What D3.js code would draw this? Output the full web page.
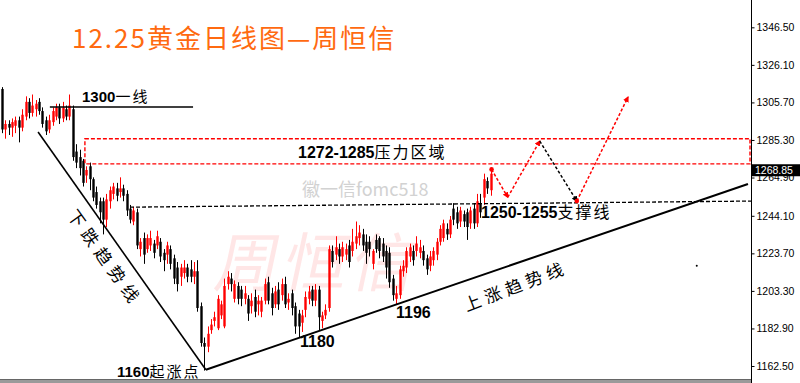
<!DOCTYPE html>
<html>
<head>
<meta charset="utf-8">
<script src="https://cdn.jsdelivr.net/npm/d3@7"></script>
<style>
  html, body { margin: 0; padding: 0; background: #fff; }
  svg { display: block; }
  .num { font-family: "Liberation Sans", Arial, sans-serif; font-weight: bold; }
  .cjk { font-family: "Noto Sans CJK SC", sans-serif; font-weight: 400; }
</style>
</head>
<body>
<svg id="chart" width="800" height="383"></svg>
<script>
// daily candles (oldest first)
const opens = [
  1313, 1291, 1294, 1292, 1293, 1296, 1292, 1298, 1306, 1300,
  1302, 1306, 1301, 1296, 1291, 1295, 1298, 1303, 1297, 1302,
  1298, 1302, 1279, 1276, 1274, 1266, 1271, 1264, 1257, 1252,
  1252, 1242, 1252, 1256, 1259, 1257, 1259, 1256, 1248, 1241,
  1246, 1226, 1232, 1226, 1228, 1229, 1228, 1230, 1224, 1223,
  1226, 1221, 1216, 1211, 1213, 1216, 1215, 1211, 1214, 1195,
  1175, 1173, 1182, 1187, 1183, 1190, 1184, 1207, 1210, 1199,
  1206, 1204, 1199, 1199, 1195, 1200, 1196, 1192, 1198, 1208,
  1202, 1196, 1204, 1201, 1207, 1197, 1202, 1195, 1191, 1186,
  1193, 1199, 1204, 1198, 1204, 1187, 1190, 1194, 1225, 1223,
  1226, 1222, 1223, 1228, 1225, 1229, 1232, 1234, 1230, 1230,
  1218, 1231, 1232, 1229, 1225, 1224, 1210, 1199, 1201, 1214,
  1216, 1222, 1225, 1225, 1224, 1225, 1221, 1217, 1220, 1223,
  1230, 1232, 1237, 1234, 1248, 1246, 1241, 1245, 1246, 1240,
  1248, 1240, 1251, 1254, 1263, 1258
];
const closes = [
  1291, 1294, 1292, 1295, 1296, 1292, 1299, 1306, 1300, 1304,
  1305, 1301, 1294, 1290, 1296, 1301, 1303, 1297, 1303, 1298,
  1304, 1276, 1273, 1270, 1262, 1269, 1264, 1254, 1250, 1246,
  1242, 1253, 1258, 1260, 1255, 1259, 1255, 1247, 1242, 1247,
  1228, 1230, 1223, 1232, 1232, 1224, 1233, 1222, 1220, 1228,
  1218, 1210, 1207, 1216, 1216, 1211, 1211, 1214, 1194, 1175,
  1173, 1180, 1185, 1189, 1199, 1196, 1206, 1211, 1207, 1207,
  1199, 1199, 1202, 1191, 1198, 1192, 1198, 1198, 1207, 1198,
  1194, 1203, 1196, 1207, 1196, 1199, 1194, 1184, 1184, 1190,
  1200, 1203, 1198, 1204, 1189, 1190, 1193, 1226, 1219, 1227,
  1222, 1227, 1226, 1219, 1230, 1233, 1235, 1228, 1224, 1226,
  1225, 1226, 1225, 1222, 1216, 1208, 1201, 1202, 1215, 1217,
  1225, 1227, 1220, 1229, 1227, 1220, 1215, 1222, 1225, 1230,
  1237, 1240, 1234, 1242, 1242, 1240, 1247, 1241, 1238, 1247,
  1240, 1252, 1246, 1264, 1259, 1267
];
const highs = [
  1314, 1296, 1296, 1297, 1298, 1298, 1302, 1309, 1308, 1310,
  1307, 1308, 1303, 1298, 1299, 1303, 1305, 1305, 1306, 1304,
  1310, 1304, 1283, 1280, 1275, 1271, 1273, 1265, 1260, 1254,
  1254, 1256, 1260, 1262, 1262, 1265, 1261, 1258, 1250, 1249,
  1248, 1232, 1235, 1234, 1236, 1231, 1236, 1232, 1226, 1230,
  1228, 1223, 1219, 1218, 1220, 1218, 1220, 1219, 1220, 1197,
  1178, 1184, 1188, 1192, 1201, 1198, 1210, 1214, 1213, 1209,
  1208, 1206, 1206, 1201, 1202, 1204, 1201, 1200, 1210, 1211,
  1205, 1206, 1208, 1210, 1211, 1202, 1204, 1197, 1193, 1193,
  1203, 1206, 1206, 1207, 1206, 1192, 1196, 1228, 1228, 1233,
  1229, 1230, 1229, 1231, 1237, 1241, 1239, 1237, 1234, 1233,
  1226, 1234, 1233, 1232, 1228, 1227, 1212, 1206, 1217, 1220,
  1227, 1229, 1228, 1233, 1231, 1228, 1223, 1225, 1227, 1232,
  1239, 1242, 1240, 1244, 1251, 1249, 1249, 1247, 1248, 1249,
  1251, 1256, 1256, 1267, 1265, 1269
];
const lows = [
  1289, 1286, 1288, 1287, 1289, 1284, 1290, 1296, 1297, 1298,
  1298, 1299, 1292, 1288, 1289, 1293, 1296, 1294, 1295, 1296,
  1296, 1274, 1270, 1266, 1260, 1262, 1258, 1252, 1248, 1240,
  1234, 1238, 1248, 1253, 1252, 1254, 1252, 1244, 1240, 1239,
  1226, 1222, 1218, 1224, 1225, 1221, 1226, 1219, 1214, 1218,
  1215, 1207, 1203, 1206, 1210, 1208, 1208, 1207, 1192, 1173,
  1160, 1170, 1180, 1184, 1182, 1188, 1183, 1204, 1203, 1197,
  1196, 1195, 1196, 1187, 1191, 1189, 1190, 1189, 1196, 1196,
  1190, 1194, 1193, 1198, 1194, 1193, 1190, 1180, 1178, 1181,
  1189, 1196, 1195, 1195, 1182, 1183, 1188, 1192, 1216, 1220,
  1218, 1219, 1220, 1216, 1222, 1226, 1228, 1225, 1218, 1222,
  1215, 1224, 1221, 1219, 1210, 1205, 1198, 1196, 1199, 1211,
  1213, 1219, 1217, 1222, 1221, 1217, 1212, 1214, 1217, 1220,
  1228, 1230, 1231, 1232, 1239, 1237, 1238, 1238, 1231, 1237,
  1237, 1238, 1243, 1250, 1256, 1255
];

// price axis labels as shown on the right
const tickValues = [1346.5, 1326.1, 1305.7, 1285.3, 1264.9, 1244.1, 1223.7, 1203.3, 1182.9, 1162.5];
const lastPrice = 1268.85;

// drawn lines: [bar index, price]
const downTrend = [[10.7, 1289.6], [60.5, 1160.5]];
const upTrend = [[60.5, 1160.5], [221.4, 1261.4]];
const line1300 = [[14.2, 1303.2], [56.7, 1303.2]];
const supportLine = [[38, 1248.8], [222.3, 1252.1]];
const pressureZone = { from: 24.6, to: 222.3, top: 1286, bottom: 1272.3 };
const forecast = [[145.3, 1269.3], [150.1, 1254.2], [159.6, 1284.7], [170.6, 1252.1], [185.8, 1308.6]];
const forecastColors = ['#ff0000', '#ff0000', '#000000', '#ff0000'];

const W = 800, H = 383, plotRight = 751, plotBottom = 379;
const svg = d3.select('#chart');

const x = d3.scaleLinear().domain([-0.6, 222.3]).range([0, plotRight]);
const y = d3.scaleLinear().domain([1155.44, 1361.34]).range([plotBottom, 0]);

const candles = opens.map((o, i) => ({ i, o, c: closes[i], h: highs[i], l: lows[i] }));

svg.append('defs').html(`
  <clipPath id="plot"><rect x="0" y="0" width="${plotRight}" height="${plotBottom}"></rect></clipPath>
  <marker id="arrRed" viewBox="0 0 10 10" refX="8" refY="5" markerWidth="4" markerHeight="4" orient="auto">
    <path d="M0,0 L10,5 L0,10 z" fill="#ff0000"></path></marker>
  <marker id="arrBlack" viewBox="0 0 10 10" refX="8" refY="5" markerWidth="4" markerHeight="4" orient="auto">
    <path d="M0,0 L10,5 L0,10 z" fill="#000"></path></marker>
`);

// watermark behind everything
svg.append('text')
  .attr('class', 'cjk')
  .attr('x', 218).attr('y', 286)
  .attr('font-size', 64)
  .attr('font-weight', 700)
  .attr('fill', '#ff3030')
  .attr('fill-opacity', 0.12)
  .attr('letter-spacing', 4)
  .attr('transform', 'skewX(-12) translate(55,0)')
  .text('周恒信');

svg.append('text')
  .attr('class', 'cjk')
  .attr('x', 302).attr('y', 196)
  .attr('font-size', 18)
  .attr('fill', '#d2d2d2')
  .text('徽一信fomc518');

const g = svg.append('g').attr('clip-path', 'url(#plot)');

// candles
const bw = 2.4;
g.selectAll('line.wick')
  .data(candles)
  .enter()
  .append('line')
  .attr('class', 'wick')
  .attr('x1', d => Math.round(x(d.i)) + 0.5)
  .attr('x2', d => Math.round(x(d.i)) + 0.5)
  .attr('y1', d => y(d.h))
  .attr('y2', d => y(d.l))
  .attr('stroke', d => (d.c >= d.o ? '#ff0000' : '#000'))
  .attr('stroke-width', 1);

g.selectAll('rect.body')
  .data(candles)
  .enter()
  .append('rect')
  .attr('class', 'body')
  .attr('x', d => Math.round(x(d.i)) + 0.5 - bw / 2)
  .attr('width', bw)
  .attr('y', d => y(Math.max(d.o, d.c)))
  .attr('height', d => Math.max(1, Math.abs(y(d.o) - y(d.c))))
  .attr('fill', d => (d.c >= d.o ? '#ff0000' : '#000'));

const line = d3.line().x(d => x(d[0])).y(d => y(d[1]));

// trend lines
g.append('path').attr('d', line(downTrend)).attr('stroke', '#000').attr('stroke-width', 1.6).attr('fill', 'none');
g.append('path').attr('d', line(upTrend)).attr('stroke', '#000').attr('stroke-width', 2).attr('fill', 'none');
g.append('path').attr('d', line(line1300)).attr('stroke', '#000').attr('stroke-width', 1.6).attr('fill', 'none');
g.append('path').attr('d', line(supportLine)).attr('stroke', '#000').attr('stroke-width', 1.3)
  .attr('stroke-dasharray', '4,2').attr('fill', 'none');

// pressure zone
svg.append('rect')
  .attr('x', x(pressureZone.from))
  .attr('y', y(pressureZone.top))
  .attr('width', plotRight - 1 - x(pressureZone.from))
  .attr('height', y(pressureZone.bottom) - y(pressureZone.top))
  .attr('fill', 'none')
  .attr('stroke', '#ff0000')
  .attr('stroke-width', 1.4)
  .attr('stroke-dasharray', '4,2');

// forecast arrows
forecast.slice(0, -1).forEach((p, k) => {
  const q = forecast[k + 1];
  svg.append('path')
    .attr('d', line([p, q]))
    .attr('stroke', forecastColors[k])
    .attr('stroke-width', 1.5)
    .attr('stroke-dasharray', '3,2')
    .attr('fill', 'none')
    .attr('marker-end', forecastColors[k] === '#000000' ? 'url(#arrBlack)' : 'url(#arrRed)');
});
[forecast[0], forecast[3]].forEach(p => {
  svg.append('circle').attr('cx', x(p[0])).attr('cy', y(p[1])).attr('r', 2.3).attr('fill', '#ff0000');
});
svg.append('circle').attr('cx', x(206.2)).attr('cy', y(1216.9)).attr('r', 1).attr('fill', '#000');

// title
svg.append('text')
  .attr('class', 'cjk')
  .attr('x', 72).attr('y', 48)
  .attr('font-size', 26)
  .attr('font-weight', 500)
  .attr('fill', '#ff6a10')
  .attr('letter-spacing', 2)
  .text('12.25黄金日线图—周恒信');

// labels
function label(xp, yp, num, txt, size) {
  const t = svg.append('text').attr('x', xp).attr('y', yp).attr('font-size', size).attr('fill', '#000');
  t.append('tspan').attr('class', 'num').text(num);
  if (txt) t.append('tspan').attr('class', 'cjk').attr('letter-spacing', 2).text(txt);
}
label(82, 102, '1300', '一线', 15);
label(298, 158, '1272-1285', '压力区域', 16);
label(481, 218, '1250-1255', '支撑线', 16);
label(117, 377, '1160', '起涨点', 15);
label(300, 347, '1180', '', 16);
label(396, 318, '1196', '', 16);

svg.append('text')
  .attr('class', 'cjk')
  .attr('font-size', 17)
  .attr('letter-spacing', 6)
  .attr('text-anchor', 'middle')
  .attr('transform', 'translate(100,262) rotate(54.5)')
  .text('下跌趋势线');

svg.append('text')
  .attr('class', 'cjk')
  .attr('font-size', 17)
  .attr('letter-spacing', 5)
  .attr('text-anchor', 'middle')
  .attr('transform', 'translate(518,292) rotate(-21)')
  .text('上涨趋势线');

// right price axis
const axis = svg.append('g')
  .attr('transform', `translate(${plotRight + 0.5},0)`)
  .call(d3.axisRight(y).tickValues(tickValues).tickSize(3).tickPadding(2).tickFormat(d3.format('.2f')));
axis.select('.domain').attr('d', `M0,0V${H}`).attr('stroke', '#000');
axis.selectAll('text')
  .attr('font-family', '"Liberation Sans", Arial, sans-serif')
  .attr('font-size', 10.5)
  .attr('fill', '#000');

// last price tag
const py = y(lastPrice);
svg.append('rect').attr('x', plotRight + 1).attr('y', py - 6).attr('width', W - plotRight - 1).attr('height', 12).attr('fill', '#000');
svg.append('text')
  .attr('x', plotRight + 4).attr('y', py + 4)
  .attr('font-family', '"Liberation Sans", Arial, sans-serif')
  .attr('font-size', 10.5)
  .attr('fill', '#fff')
  .text(lastPrice.toFixed(2));

// bottom border
svg.append('rect').attr('x', 0).attr('y', plotBottom).attr('width', plotRight).attr('height', H - plotBottom).attr('fill', '#9a9a9a');
svg.append('line').attr('x1', 0).attr('x2', plotRight).attr('y1', plotBottom + 0.5).attr('y2', plotBottom + 0.5).attr('stroke', '#666');
</script>
</body>
</html>
